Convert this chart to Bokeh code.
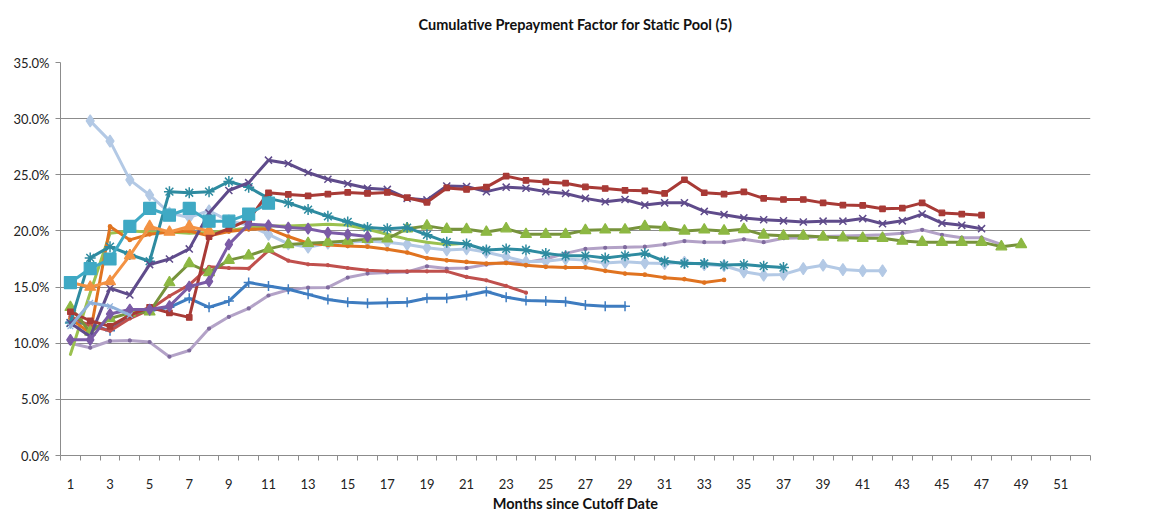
from bokeh.plotting import figure
from bokeh.models import Range1d, FixedTicker, NumeralTickFormatter, Title
from bokeh.embed import file_html
from bokeh.resources import INLINE

# ---------------- data (percent) ----------------
title_text = "Cumulative Prepayment Factor for Static Pool (5)"
x_title = "Months since Cutoff Date"
x_tick_labels = list(range(1, 52, 2))
y_ticks = [0.0, 0.05, 0.10, 0.15, 0.20, 0.25, 0.30, 0.35]

blue_plus = [11.9, 11.7, 11.1, 12.6, 12.9, 13.2, 14.0, 13.2, 13.75, 15.4,
             15.1, 14.8, 14.35, 13.9, 13.65, 13.55, 13.6, 13.65, 14.0, 14.0,
             14.25, 14.6, 14.1, 13.8, 13.75, 13.7, 13.4, 13.3, 13.3]

dark_red_sq = [12.8, 12.0, 11.5, 12.5, 13.2, 12.7, 12.3, 19.5, 20.2, 21.0,
               23.4, 23.25, 23.13, 23.28, 23.43, 23.34, 23.43, 22.96, 22.55, 23.83,
               23.7, 23.9, 24.88, 24.5, 24.36, 24.25, 23.92, 23.78, 23.62, 23.57,
               23.34, 24.56, 23.4, 23.28, 23.48, 22.9, 22.8, 22.8, 22.5, 22.3,
               22.27, 21.97, 22.03, 22.5, 21.6, 21.5, 21.4]

bright_red = [12.4, 11.55, 11.1, 12.2, 13.0, 14.2, 15.2, 16.8, 16.7, 16.65,
              18.25, 17.35, 17.03, 16.95, 16.7, 16.5, 16.4, 16.4, 16.4, 16.4,
              15.9, 15.6, 15.1, 14.5]

green_tri = [13.2, 11.0, 12.2, 12.7, 12.8, 15.4, 17.1, 16.3, 17.4, 17.8,
             18.4, 18.8, 18.9, 19.0, 19.1, 19.27, 19.3, 20.2, 20.45, 20.16,
             20.14, 19.9, 20.2, 19.7, 19.7, 19.7, 20.05, 20.1, 20.1, 20.4,
             20.3, 20.0, 20.1, 20.0, 20.14, 19.65, 19.56, 19.56, 19.47, 19.4,
             19.35, 19.35, 19.1, 19.0, 19.0, 19.0, 19.0, 18.6, 18.8]

light_green = [9.0, 14.5, 19.8, 20.0, 19.9, 19.9, 19.8, 19.85, 20.05, 20.28,
               20.43, 20.43, 20.5, 20.6, 20.5, 20.15, 19.7, 19.27, 19.0, 18.78,
               18.9]

purple_x = [11.8, 10.6, 14.9, 14.3, 17.0, 17.5, 18.4, 21.6, 23.6, 24.3,
            26.3, 26.0, 25.2, 24.6, 24.2, 23.8, 23.7, 22.9, 22.76, 24.0,
            23.95, 23.5, 23.9, 23.8, 23.5, 23.34, 22.9, 22.6, 22.8, 22.3,
            22.5, 22.5, 21.74, 21.45, 21.16, 21.0, 20.9, 20.8, 20.87, 20.87,
            21.1, 20.64, 20.9, 21.5, 20.7, 20.5, 20.2]

purple_dia = [10.3, 10.3, 12.6, 13.0, 13.0, 13.3, 15.05, 15.5, 18.8, 20.6,
              20.5, 20.3, 20.2, 19.85, 19.7, 19.5]

light_purple = [10.0, 9.6, 10.2, 10.25, 10.1, 8.8, 9.35, 11.3, 12.35, 13.1,
                14.25, 14.75, 14.95, 14.97, 15.85, 16.2, 16.3, 16.35, 16.85, 16.65,
                16.7, 17.0, 17.2, 17.2, 17.5, 18.0, 18.4, 18.5, 18.55, 18.6,
                18.8, 19.1, 19.0, 19.0, 19.25, 19.0, 19.35, 19.4, 19.5, 19.55,
                19.6, 19.65, 19.8, 20.1, 19.65, 19.4, 19.4, 18.8]

teal_star = [11.8, 17.6, 18.6, 17.9, 17.3, 23.5, 23.4, 23.5, 24.4, 23.9,
             22.9, 22.5, 21.9, 21.3, 20.8, 20.3, 20.2, 20.3, 19.65, 19.0,
             18.84, 18.3, 18.4, 18.3, 18.0, 17.8, 17.8, 17.58, 17.8, 18.0,
             17.3, 17.1, 17.1, 16.96, 17.0, 16.86, 16.74]

teal_sq = [15.4, 16.65, 17.5, 20.4, 22.0, 21.4, 22.0, 20.87, 20.87, 21.5, 22.47]

dark_orange = [12.2, 10.9, 20.4, 19.2, 19.7, 19.9, 20.0, 19.56, 19.94, 20.14,
               20.2, 19.5, 18.9, 18.75, 18.66, 18.6, 18.37, 18.08, 17.58, 17.38,
               17.24, 17.1, 17.15, 16.95, 16.8, 16.75, 16.75, 16.45, 16.2, 16.1,
               15.84, 15.7, 15.4, 15.64]

orange_tri = [15.4, 15.0, 15.5, 17.8, 20.4, 19.9, 20.4, 20.0]

light_blue_dia_start = 2
light_blue_dia = [29.8, 28.0, 24.55, 23.2, 21.6, 21.2, 21.8, 20.9, 20.5, 19.7,
                  18.85, 18.55, 18.9, 19.0, 19.1, 19.0, 18.8, 18.5, 18.3, 18.4,
                  18.1, 17.7, 17.25, 17.3, 17.5, 17.4, 17.15, 17.25, 17.15, 17.1,
                  17.2, 17.0, 16.9, 16.36, 16.07, 16.13, 16.65, 16.94, 16.56, 16.45,
                  16.45]

light_steel = [11.5, 13.6, 13.3, 12.5]

# ---------------- figure ----------------
FONT = "Lato"
GRID = "#8C8C8C"

p = figure(width=1143, height=514, output_backend="svg", toolbar_location=None,
           x_range=Range1d(0.5, 52.5), y_range=Range1d(0, 0.35),
           min_border_left=60, min_border_right=53, min_border_top=62,
           min_border_bottom=51, title=None)
p.outline_line_color = None
p.background_fill_color = "white"
p.border_fill_color = "white"

# spacer (nearest the frame) then the real title above it
p.add_layout(Title(text=" ", text_font_size="11px", text_font=FONT), "above")
p.add_layout(Title(text=title_text, align="center", text_font=FONT,
                   text_font_style="bold", text_font_size="14.5px",
                   text_color="#111111"), "above")

p.xgrid.visible = False
p.ygrid.ticker = FixedTicker(ticks=y_ticks)
p.ygrid.grid_line_color = GRID
p.ygrid.grid_line_width = 1

p.yaxis.ticker = FixedTicker(ticks=y_ticks)
p.yaxis.formatter = NumeralTickFormatter(format="0.0%")
p.yaxis.axis_line_color = GRID
p.yaxis.major_tick_line_color = GRID
p.yaxis.major_tick_out = 5
p.yaxis.major_tick_in = 0
p.yaxis.minor_tick_line_color = None
p.yaxis.major_label_standoff = 6
p.yaxis.major_label_text_font = FONT
p.yaxis.major_label_text_font_size = "13px"
p.yaxis.major_label_text_color = "#222222"

p.xaxis.ticker = FixedTicker(ticks=x_tick_labels,
                             minor_ticks=[i + 0.5 for i in range(0, 53)])
p.xaxis.axis_line_color = GRID
p.xaxis.major_tick_line_color = None
p.xaxis.major_tick_out = 0
p.xaxis.major_tick_in = 0
p.xaxis.minor_tick_line_color = GRID
p.xaxis.minor_tick_out = 5
p.xaxis.minor_tick_in = 0
p.xaxis.major_label_standoff = 18
p.xaxis.major_label_text_font = FONT
p.xaxis.major_label_text_font_size = "13px"
p.xaxis.major_label_text_color = "#222222"
p.xaxis.axis_label = x_title
p.xaxis.axis_label_text_font = FONT
p.xaxis.axis_label_text_font_style = "bold"
p.xaxis.axis_label_text_font_size = "14.5px"
p.xaxis.axis_label_text_color = "#111111"
p.xaxis.axis_label_standoff = 3


def draw(vals, color, start=1, marker=None, size=8, mfill=None, mline=None,
         width=3, mwidth=1.2):
    xs = list(range(start, start + len(vals)))
    ys = [v / 100.0 for v in vals]
    p.line(xs, ys, line_color=color, line_width=width, line_join="round",
           line_cap="round")
    if marker:
        p.scatter(xs, ys, marker=marker, size=size,
                  fill_color=mfill if mfill else color,
                  line_color=mline if mline else color, line_width=mwidth)


draw(light_purple, "#B3A2C7", marker="circle", size=3, mfill="#7F6A9E", mline="#7F6A9E")
draw(light_blue_dia, "#B3C9E5", start=light_blue_dia_start, marker="diamond", size=12)
draw(light_green, "#9BC14F")
draw(blue_plus, "#3E7CC0", marker="cross", size=10, mwidth=1.5)
draw(dark_orange, "#E07320", marker="circle", size=3.5)
draw(bright_red, "#C0504D", marker="circle", size=3)
draw(green_tri, "#77933C", marker="triangle", size=11, mfill="#8DB843", mline="#8DB843")
draw(teal_star, "#2E8BA0", marker="asterisk", size=11, mwidth=1.5)
draw(purple_x, "#5F4B8B", marker="x", size=10, mwidth=1.5)
draw(dark_red_sq, "#A83A36", marker="square", size=5.5)
draw(purple_dia, "#7B5BA6", marker="diamond", size=11)
draw(orange_tri, "#F39243", marker="triangle", size=11)
draw(teal_sq, "#3FA9C4", marker="square", size=12)
draw(light_steel, "#8EB0DA", marker="x", size=8, mwidth=1.2)

open("out.html", "w").write(file_html(p, INLINE))
